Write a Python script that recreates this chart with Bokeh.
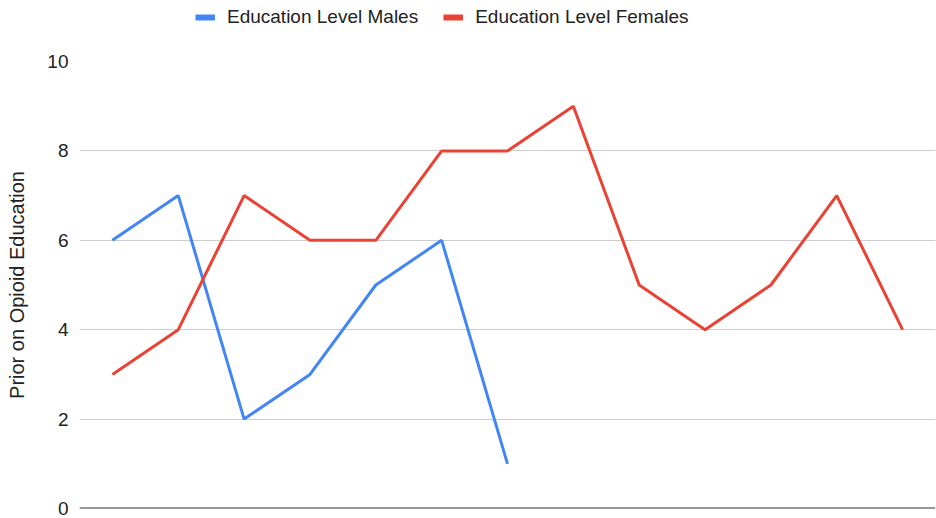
from bokeh.plotting import figure
from bokeh.models import Range1d, Legend, LegendItem, FixedTicker
from bokeh.layouts import column
from bokeh.embed import file_html
from bokeh.resources import INLINE

# Data
x_males = [1, 2, 3, 4, 5, 6, 7]
males = [6, 7, 2, 3, 5, 6, 1]
x_females = [1, 2, 3, 4, 5, 6, 7, 8, 9, 10, 11, 12, 13]
females = [3, 4, 7, 6, 6, 8, 8, 9, 5, 4, 5, 7, 4]
y_ticks = [0, 2, 4, 6, 8, 10]
series_names = ["Education Level Males", "Education Level Females"]
colors = ["#4285F4", "#EA4335"]

FONT = "Liberation Sans"
TXT = "#222222"

# ---- legend strip (series drawn out of view; only the legend shows) ----
lg = figure(width=936, height=36, output_backend="svg", toolbar_location=None,
            x_range=Range1d(100, 101), y_range=Range1d(100, 101),
            min_border_left=0, min_border_right=0, min_border_top=0, min_border_bottom=0)
lg.outline_line_color = None
lg.axis.visible = False
lg.grid.visible = False
l1 = lg.line(x_males, males, line_color=colors[0], line_width=6, line_cap="butt")
l2 = lg.line(x_females, females, line_color=colors[1], line_width=6, line_cap="butt")
legend = Legend(items=[LegendItem(label=series_names[0], renderers=[l1]),
                       LegendItem(label=series_names[1], renderers=[l2])],
                orientation="horizontal", location=(116, 8),
                label_text_font=FONT, label_text_font_size="19px", label_text_color=TXT,
                label_height=20, glyph_width=20, glyph_height=20, spacing=25, label_standoff=12,
                padding=0, margin=0, border_line_color=None, background_fill_alpha=0)
lg.add_layout(legend, "center")

# ---- main chart ----
p = figure(width=936, height=482, output_backend="svg", toolbar_location=None,
           x_range=Range1d(0.5, 13.5), y_range=Range1d(0, 10),
           min_border_left=79, min_border_right=1, min_border_bottom=10, min_border_top=25)
p.outline_line_color = None
p.background_fill_color = "white"

p.line(x_males, males, line_color=colors[0], line_width=3)
p.line(x_females, females, line_color=colors[1], line_width=3)

# baseline at zero
p.line([0.5, 13.5], [0, 0], line_color="#333333", line_width=2, level="underlay")

p.xaxis.visible = False
p.xgrid.visible = False

yax = p.yaxis[0]
yax.ticker = FixedTicker(ticks=y_ticks)
yax.axis_line_color = None
yax.major_tick_line_color = None
yax.minor_tick_line_color = None
yax.major_tick_out = 0
yax.major_tick_in = 0
yax.major_label_standoff = 11
yax.major_label_text_font = FONT
yax.major_label_text_font_size = "19px"
yax.major_label_text_color = TXT
yax.axis_label = "Prior on Opioid Education"
yax.axis_label_text_font = FONT
yax.axis_label_text_font_size = "20px"
yax.axis_label_text_font_style = "normal"
yax.axis_label_text_color = TXT
yax.axis_label_standoff = 16

p.ygrid.ticker = FixedTicker(ticks=[2, 4, 6, 8, 10])
p.ygrid.grid_line_color = "#cccccc"
p.ygrid.grid_line_width = 1

layout = column(lg, p, spacing=0)
open("out.html", "w").write(file_html(layout, INLINE))
